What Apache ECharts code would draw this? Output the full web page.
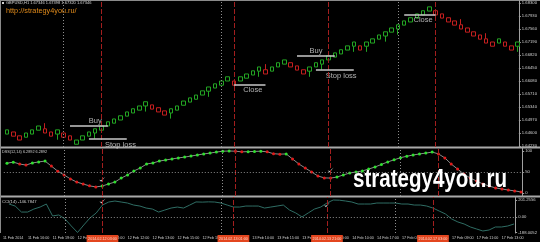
<!DOCTYPE html>
<html><head><meta charset="utf-8">
<script src="https://cdn.jsdelivr.net/npm/echarts@6/dist/echarts.min.js"></script>
<style>html,body{margin:0;padding:0;background:#000;overflow:hidden}#c{width:540px;height:242px}</style>
</head><body><div id="c"></div>
<script>
// [open, close, low, high]
const candles = [
[1.6457,1.6469,1.6457,1.6469],[1.6463,1.6451,1.6451,1.6463],[1.6452,1.6440,1.6440,1.6452],[1.6448,1.6460,1.6448,1.6460],
[1.6457,1.6469,1.6457,1.6469],[1.6468,1.6480,1.6468,1.6480],[1.6472,1.6460,1.6460,1.6488],[1.6463,1.6451,1.6451,1.6463],
[1.6457,1.6469,1.6441,1.6469],[1.6460,1.6448,1.6448,1.6460],[1.6452,1.6440,1.6440,1.6452],[1.6428,1.6440,1.6428,1.6440],
[1.6440,1.6452,1.6440,1.6452],[1.6451,1.6463,1.6451,1.6463],[1.6460,1.6472,1.6444,1.6472],[1.6468,1.6480,1.6468,1.6480],
[1.6480,1.6492,1.6480,1.6492],[1.6488,1.6500,1.6488,1.6500],[1.6497,1.6509,1.6497,1.6509],[1.6508,1.6520,1.6508,1.6520],
[1.6517,1.6529,1.6517,1.6529],[1.6525,1.6537,1.6525,1.6537],[1.6537,1.6549,1.6521,1.6549],[1.6540,1.6528,1.6528,1.6540],
[1.6532,1.6520,1.6520,1.6532],[1.6523,1.6511,1.6511,1.6523],[1.6517,1.6529,1.6501,1.6529],[1.6525,1.6537,1.6525,1.6537],
[1.6539,1.6551,1.6539,1.6551],[1.6548,1.6560,1.6548,1.6560],[1.6556,1.6568,1.6556,1.6568],[1.6568,1.6580,1.6568,1.6580],
[1.6579,1.6591,1.6563,1.6591],[1.6588,1.6600,1.6588,1.6600],[1.6596,1.6608,1.6596,1.6608],[1.6608,1.6620,1.6608,1.6620],
[1.6608,1.6596,1.6596,1.6608],[1.6608,1.6620,1.6608,1.6620],[1.6616,1.6628,1.6616,1.6628],[1.6625,1.6637,1.6625,1.6637],
[1.6636,1.6648,1.6620,1.6648],[1.6640,1.6628,1.6628,1.6656],[1.6636,1.6648,1.6636,1.6648],[1.6648,1.6660,1.6648,1.6660],
[1.6656,1.6668,1.6656,1.6668],[1.6660,1.6648,1.6648,1.6660],[1.6651,1.6639,1.6639,1.6651],[1.6640,1.6628,1.6628,1.6640],
[1.6636,1.6648,1.6620,1.6648],[1.6648,1.6660,1.6648,1.6660],[1.6656,1.6668,1.6640,1.6668],[1.6668,1.6680,1.6668,1.6680],
[1.6676,1.6688,1.6676,1.6688],[1.6685,1.6697,1.6685,1.6697],[1.6696,1.6708,1.6696,1.6708],[1.6707,1.6719,1.6691,1.6719],
[1.6708,1.6696,1.6696,1.6708],[1.6707,1.6719,1.6691,1.6719],[1.6716,1.6728,1.6716,1.6728],[1.6727,1.6739,1.6727,1.6739],
[1.6736,1.6748,1.6720,1.6748],[1.6747,1.6759,1.6747,1.6759],[1.6756,1.6768,1.6740,1.6768],[1.6767,1.6779,1.6767,1.6779],
[1.6776,1.6788,1.6776,1.6788],[1.6787,1.6799,1.6787,1.6799],[1.6796,1.6808,1.6796,1.6808],[1.6807,1.6819,1.6807,1.6819],
[1.6808,1.6796,1.6796,1.6808],[1.6799,1.6787,1.6787,1.6799],[1.6788,1.6776,1.6776,1.6788],[1.6779,1.6767,1.6767,1.6779],
[1.6768,1.6756,1.6756,1.6784],[1.6759,1.6747,1.6747,1.6759],[1.6748,1.6736,1.6736,1.6748],[1.6739,1.6727,1.6727,1.6739],
[1.6728,1.6716,1.6716,1.6744],[1.6719,1.6707,1.6707,1.6719],[1.6716,1.6728,1.6716,1.6728],[1.6719,1.6707,1.6707,1.6719],
[1.6708,1.6696,1.6696,1.6708],[1.6707,1.6719,1.6691,1.6719]
];
const dssValues = [71,73.5,69,66.5,71.5,74,76,64,52,43,
33.5,26,21.5,17,14.5,16.5,21.5,26,35.5,43,
52.5,59.5,69,71.5,76,78.5,81,83.5,85.5,88,
90.5,93,95,97.5,99.5,100,99.5,98,98.5,99,
99.5,98,93.5,92.5,93,81,69,59.5,50,40.5,
36,35.5,38,43,47.5,50,52.5,57,62,68,
74,79,84,87.5,90.5,93,95,97.5,93,83.5,
69,57,45,35.5,28.5,21.5,16.5,12,9.5,7,
5,2.5];
const cciValues = [153,129,57,57,93,117,153,10,22,-26,
-110,-188,-98,-14,46,141,177,189,177,165,
141,129,105,93,57,81,105,117,105,141,
178,176,179,177,165,141,117,117,129,129,
129,105,117,129,141,81,46,-2,46,93,
117,165,201.26,199,189,177,153,153,153,165,
165,165,165,153,153,141,141,129,105,69,
34,-26,-62,-86,-122,-146,-170,-158,-122,-122,
-110,-86];
const priceTicks = [1.64230,1.64600,1.64970,1.65340,1.65710,1.66080,1.66450,1.66820,1.67190,1.67560,1.67930,1.68300];
const dssTicks = [0,50,100];
const cciTicks = [-188.0052,0,201.2556];
const timeLabels = ["11 Feb 2014","11 Feb 16:00","11 Feb 19:00","12 Feb 00:00","12 Feb 04:00","12 Feb 12:00","12 Feb 13:00",
"12 Feb 15:00","12 Feb 18:00","13 Feb 02:00","13 Feb 10:00","13 Feb 15:00","13 Feb 19:00","14 Feb 00:00","14 Feb 10:00",
"14 Feb 17:00","17 Feb 01:00","17 Feb 05:00","17 Feb 09:00","17 Feb 11:00","17 Feb 13:00"];
const entryBars = [15,36,51,68];
const entryTimes = ["2014.02.12 03:00","2014.02.13 01:00","2014.02.13 21:00","2014.02.17 03:00"];
const separatorBars = [9,34,62];
const tradeTexts = ["Buy","Stop loss","Close","Buy","Stop loss","Close"];
const tradeStart = [10,13,36,46,49,63];
const tradeEnd = [16,19,41,52,55,68];
const tradePrices = [1.6480,1.6443,1.6597,1.6679,1.6639,1.6796];
const tradeLabelBars = [14,18,39,49,53,66];
const checkBars = [15,51];
const dssChecks = [33,55];
const cciChecks = [190,143];

const FONT = 'Liberation Sans, Arial, sans-serif';
const cats = candles.map((_, i) => i);
const GREEN = '#23a523', RED = '#c41f1f';

function vLines() {
  return [
    ...entryBars.map(b => ({xAxis: b, lineStyle: {color: '#a31e1e', type: [5, 2], width: 1}})),
    ...separatorBars.map(b => ({xAxis: b, lineStyle: {color: '#8e8e8e', type: [1, 2], width: 1}}))
  ];
}
const checkPath = 'path://M0,6 L4,10 L12,0 L4,7 Z';
const axisCommon = {
  type: 'value', position: 'right', offset: -2,
  axisLine: {show: true, lineStyle: {color: '#a0a0a0', width: 1}},
  splitLine: {show: false}
};

const chart = echarts.init(document.getElementById('c'), null, {renderer: 'canvas'});
chart.setOption({
  backgroundColor: '#000',
  animation: false,
  grid: [
    {left: 3.8, top: 0, width: 520.4, height: 147},
    {left: 3.8, top: 148, width: 520.4, height: 48},
    {left: 3.8, top: 197, width: 520.4, height: 36}
  ],
  xAxis: [
    {gridIndex: 0, type: 'category', data: cats, show: false},
    {gridIndex: 1, type: 'category', data: cats, show: false},
    {gridIndex: 2, type: 'category', data: cats, position: 'bottom',
      axisLine: {show: false}, axisTick: {show: false},
      axisLabel: {interval: 0, align: 'left', padding: [0, 0, 0, -6], margin: 3,
        formatter: (v, i) => (i % 4 === 0 ? (timeLabels[i / 4] || '') : ''),
        color: '#cfcfcf', fontSize: 3.7, fontFamily: FONT}},
    {gridIndex: 2, type: 'category', data: cats, position: 'bottom', z: 10,
      axisLine: {show: false}, axisTick: {show: false},
      axisLabel: {interval: (i) => entryBars.indexOf(i) >= 0, margin: 2,
        formatter: (v, i) => entryTimes[entryBars.indexOf(i)] || '',
        backgroundColor: '#e3461f', color: '#ffd6c8', fontSize: 3.7, fontFamily: FONT, padding: [1.5, 1.5]}}
  ],
  yAxis: [
    Object.assign({}, axisCommon, {gridIndex: 0, min: 1.64202, max: 1.68385,
      axisTick: {show: true, length: 2, customValues: priceTicks, lineStyle: {color: '#a0a0a0'}},
      axisLabel: {customValues: priceTicks, formatter: v => v.toFixed(5), color: '#cfcfcf', fontSize: 4.2, margin: 3, fontFamily: FONT}}),
    Object.assign({}, axisCommon, {gridIndex: 1, min: -7.14, max: 107.14,
      axisTick: {show: true, length: 2, customValues: dssTicks, lineStyle: {color: '#a0a0a0'}},
      axisLabel: {customValues: dssTicks, formatter: v => String(v), color: '#cfcfcf', fontSize: 4.2, margin: 3, fontFamily: FONT}}),
    Object.assign({}, axisCommon, {gridIndex: 2, min: -194, max: 237.2,
      axisTick: {show: true, length: 2, customValues: cciTicks, lineStyle: {color: '#a0a0a0'}},
      axisLabel: {customValues: cciTicks, formatter: v => (v === 0 ? '0.00' : v.toFixed(4)), color: '#cfcfcf', fontSize: 4.2, margin: 3, fontFamily: FONT}})
  ],
  series: [
    {type: 'candlestick', xAxisIndex: 0, yAxisIndex: 0, data: candles, barWidth: 4,
      itemStyle: {color: '#000', color0: '#000', borderColor: GREEN, borderColor0: RED, borderWidth: 1},
      markLine: {silent: true, symbol: 'none', label: {show: false}, animation: false,
        data: [
          ...vLines(),
          ...tradeTexts.map((t, k) => [
            {coord: [tradeStart[k], tradePrices[k]], lineStyle: {color: '#c9c9c9', type: 'solid', width: 1.5}},
            {coord: [tradeEnd[k], tradePrices[k]]}
          ])
        ]}},
    {type: 'scatter', xAxisIndex: 0, yAxisIndex: 0, symbolSize: 0, silent: true,
      data: tradeTexts.map((t, k) => ({value: [tradeLabelBars[k], tradePrices[k]],
        label: {show: true, formatter: t, position: t === 'Buy' ? 'top' : 'bottom', distance: 1.5,
          color: '#dcdcdc', fontSize: 7.5, fontFamily: FONT}}))},
    {type: 'line', xAxisIndex: 1, yAxisIndex: 1, symbol: 'circle', symbolSize: 3, showSymbol: true,
      lineStyle: {color: '#8c8c8c', width: 1},
      data: dssValues.map((v, i) => ({value: v, itemStyle: {color: (i === 0 ? v <= dssValues[1] : v >= dssValues[i - 1]) ? '#2fe02f' : '#e01a1a', borderWidth: 0}})),
      markLine: {silent: true, symbol: 'none', label: {show: false},
        data: [...vLines(), {yAxis: 50, lineStyle: {color: '#8a8a8a', type: [1, 2], width: 1}}]}},
    {type: 'scatter', xAxisIndex: 1, yAxisIndex: 1, symbol: checkPath, symbolSize: [6, 5],
      itemStyle: {color: '#ffffff'}, data: checkBars.map((b, k) => [b, dssChecks[k]])},
    {type: 'line', xAxisIndex: 2, yAxisIndex: 2, showSymbol: false, symbol: 'none',
      lineStyle: {color: '#2f6d64', width: 1}, data: cciValues,
      markLine: {silent: true, symbol: 'none', label: {show: false},
        data: [...vLines(), {yAxis: 0, lineStyle: {color: '#8a8a8a', type: [1, 2], width: 1}}]}},
    {type: 'scatter', xAxisIndex: 2, yAxisIndex: 2, symbol: checkPath, symbolSize: [6, 5],
      itemStyle: {color: '#ffffff'}, data: checkBars.map((b, k) => [b, cciChecks[k]])}
  ],
  graphic: [
    {type: 'rect', shape: {x: 0, y: 146.5, width: 540, height: 2}, style: {fill: '#a9a9a9'}, silent: true},
    {type: 'rect', shape: {x: 0, y: 195.5, width: 540, height: 2}, style: {fill: '#a9a9a9'}, silent: true},
    {type: 'line', shape: {x1: 0, y1: 0.5, x2: 540, y2: 0.5}, style: {stroke: '#8a8a8a', lineWidth: 1}, silent: true},
    {type: 'line', shape: {x1: 0.5, y1: 0, x2: 0.5, y2: 233}, style: {stroke: '#8a8a8a', lineWidth: 1}, silent: true},
    {type: 'rect', shape: {x: 2, y: 2, width: 2, height: 2}, style: {fill: '#cfcfcf'}, silent: true},
    {type: 'text', x: 6, y: 3, silent: true, style: {text: 'GBPUSD,H1 1.67346 1.67398 1.67320 1.67346', fill: '#d8d8d8',
      font: '4px ' + FONT, textVerticalAlign: 'middle', verticalAlign: 'middle'}},
    {type: 'text', x: 6, y: 11, silent: true, style: {text: 'http://strategy4you.ru/', fill: '#e08a1a',
      font: '7.3px ' + FONT, textVerticalAlign: 'middle', verticalAlign: 'middle'}},
    {type: 'text', x: 2, y: 152, silent: true, style: {text: 'DSS(12,14) 6.2892 6.2892', fill: '#cfcfcf',
      font: '3.8px ' + FONT, textVerticalAlign: 'middle', verticalAlign: 'middle'}},
    {type: 'text', x: 2, y: 202, silent: true, style: {text: 'CCI(14) -146.7847', fill: '#cfcfcf',
      font: '4.2px ' + FONT, textVerticalAlign: 'middle', verticalAlign: 'middle'}},
    {type: 'text', x: 353, y: 180, scaleX: 0.79, z: 100, silent: true, style: {text: 'strategy4you.ru', fill: '#ffffff',
      font: 'bold 26px "Liberation Sans", Arial, sans-serif', textVerticalAlign: 'middle', verticalAlign: 'middle'}}
  ]
});
</script>
</body></html>
